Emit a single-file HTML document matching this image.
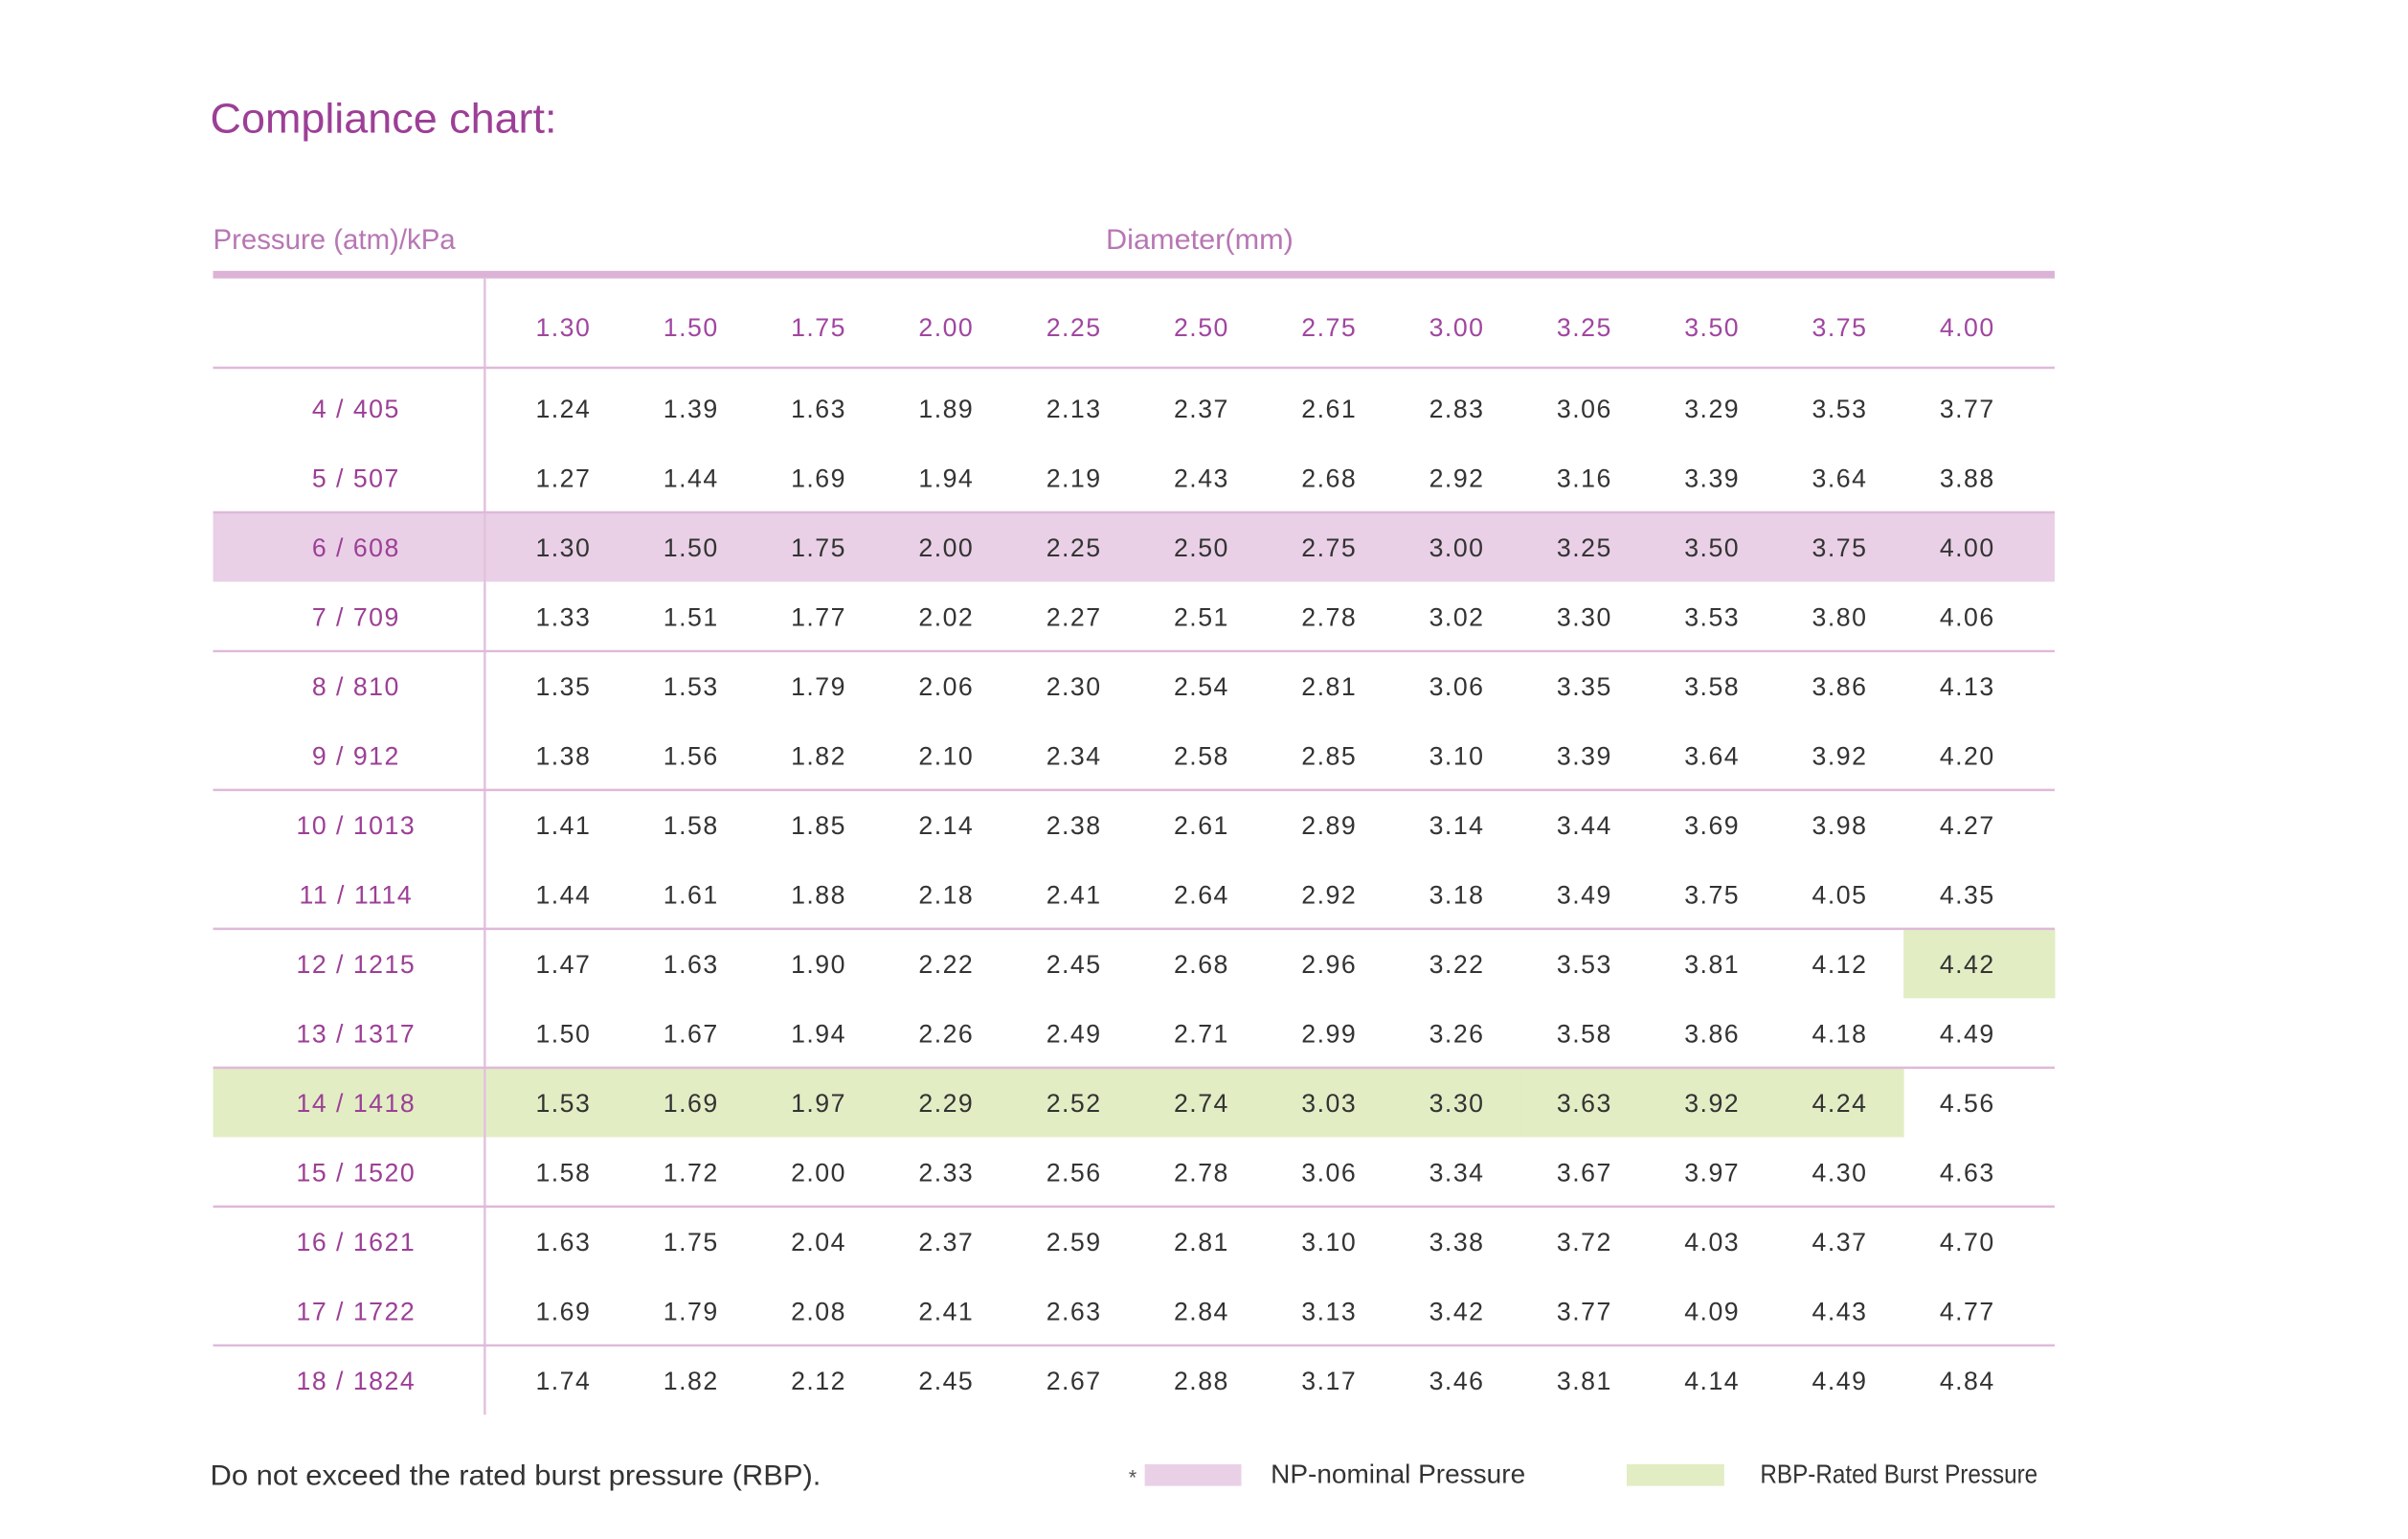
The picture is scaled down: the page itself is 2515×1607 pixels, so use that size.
<!DOCTYPE html>
<html><head><meta charset="utf-8"><style>
html,body{margin:0;padding:0;background:#fff;}
svg{display:block;}
text{font-family:"Liberation Sans",sans-serif;}
</style></head><body>
<svg id="chart" width="2515" height="1607" viewBox="0 0 2543 1625" preserveAspectRatio="xMinYMin meet" xmlns="http://www.w3.org/2000/svg">
<text x="222" y="140" font-size="44" fill="#9c3f96" textLength="366" lengthAdjust="spacingAndGlyphs">Compliance chart:</text>
<text x="225" y="263" font-size="30" fill="#b777b3" textLength="256" lengthAdjust="spacingAndGlyphs">Pressure (atm)/kPa</text>
<text x="1267" y="263" font-size="30" fill="#b777b3" text-anchor="middle" textLength="198" lengthAdjust="spacingAndGlyphs">Diameter(mm)</text>
<g id="bg"></g>
<g id="gridlines"></g>
<g id="cellgroup"></g>
<text x="222" y="1568" font-size="30" fill="#333" textLength="645" lengthAdjust="spacingAndGlyphs">Do not exceed the rated burst pressure (RBP).</text>
<text x="1192" y="1568" font-size="22" fill="#555">*</text>
<rect x="1209" y="1546" width="102" height="23" fill="#e9d0e6"/>
<text x="1342" y="1566" font-size="28" fill="#333" textLength="269" lengthAdjust="spacingAndGlyphs">NP-nominal Pressure</text>
<rect x="1718" y="1546" width="103" height="23" fill="#e2edc4"/>
<text x="1859" y="1566" font-size="28" fill="#333" textLength="293" lengthAdjust="spacingAndGlyphs">RBP-Rated Burst Pressure</text>
</svg>
<script>
const diameters = ["1.30","1.50","1.75","2.00","2.25","2.50","2.75","3.00","3.25","3.50","3.75","4.00"];
const pressures = ["4 / 405","5 / 507","6 / 608","7 / 709","8 / 810","9 / 912","10 / 1013","11 / 1114","12 / 1215","13 / 1317","14 / 1418","15 / 1520","16 / 1621","17 / 1722","18 / 1824"];
const r4 = ["1.24","1.39","1.63","1.89","2.13","2.37","2.61","2.83","3.06","3.29","3.53","3.77"];
const r5 = ["1.27","1.44","1.69","1.94","2.19","2.43","2.68","2.92","3.16","3.39","3.64","3.88"];
const r6 = ["1.30","1.50","1.75","2.00","2.25","2.50","2.75","3.00","3.25","3.50","3.75","4.00"];
const r7 = ["1.33","1.51","1.77","2.02","2.27","2.51","2.78","3.02","3.30","3.53","3.80","4.06"];
const r8 = ["1.35","1.53","1.79","2.06","2.30","2.54","2.81","3.06","3.35","3.58","3.86","4.13"];
const r9 = ["1.38","1.56","1.82","2.10","2.34","2.58","2.85","3.10","3.39","3.64","3.92","4.20"];
const r10 = ["1.41","1.58","1.85","2.14","2.38","2.61","2.89","3.14","3.44","3.69","3.98","4.27"];
const r11 = ["1.44","1.61","1.88","2.18","2.41","2.64","2.92","3.18","3.49","3.75","4.05","4.35"];
const r12 = ["1.47","1.63","1.90","2.22","2.45","2.68","2.96","3.22","3.53","3.81","4.12","4.42"];
const r13 = ["1.50","1.67","1.94","2.26","2.49","2.71","2.99","3.26","3.58","3.86","4.18","4.49"];
const r14 = ["1.53","1.69","1.97","2.29","2.52","2.74","3.03","3.30","3.63","3.92","4.24","4.56"];
const r15 = ["1.58","1.72","2.00","2.33","2.56","2.78","3.06","3.34","3.67","3.97","4.30","4.63"];
const r16 = ["1.63","1.75","2.04","2.37","2.59","2.81","3.10","3.38","3.72","4.03","4.37","4.70"];
const r17 = ["1.69","1.79","2.08","2.41","2.63","2.84","3.13","3.42","3.77","4.09","4.43","4.77"];
const r18 = ["1.74","1.82","2.12","2.45","2.67","2.88","3.17","3.46","3.81","4.14","4.49","4.84"];
const values = [r4,r5,r6,r7,r8,r9,r10,r11,r12,r13,r14,r15,r16,r17,r18];
const npRow = 2;
const rbpCells = [[8,11],[10,0],[10,1],[10,2],[10,3],[10,4],[10,5],[10,6],[10,7],[10,8],[10,9],[10,10]];

(function(){
const NS = "http://www.w3.org/2000/svg";
const L = 225, R = 2170, VX = 512, COL0 = 595, CW = 134.8, ROW0 = 431, RH = 73.3;
const colX = i => COL0 + i * CW;
const rowY = i => ROW0 + i * RH;
function mk(tag, attrs, parent) { const e = document.createElementNS(NS, tag); for (const k in attrs) e.setAttribute(k, attrs[k]); parent.appendChild(e); return e; }
const bgG = document.getElementById('bg'), lineG = document.getElementById('gridlines'), cellG = document.getElementById('cellgroup');

const np = mk('rect', {x: L, y: rowY(npRow) - RH/2, width: R - L, height: RH, fill: '#e9d0e6'}, bgG);


rbpCells.forEach(([r, c]) => {
  const x0 = c === 0 ? L : colX(c) - CW/2;
  const x1 = c === diameters.length - 1 ? R : colX(c) + CW/2;
  const e = mk('rect', {x: x0, y: rowY(r) - RH/2, width: x1 - x0 + 0.5, height: RH, fill: '#e2edc4'}, bgG);
  
  
});

const headerRule = mk('rect', {x: L, y: 286, width: R - L, height: 8, fill: '#dcb3d6'}, lineG);


const vl = mk('line', {x1: VX, y1: 293, x2: VX, y2: rowY(pressures.length - 1) + RH/2, stroke: '#e2c2dd', 'stroke-width': 2.5}, lineG);


for (let i = 0; i < pressures.length; i += 2) {
  const y = rowY(i) - RH/2 - (i === 0 ? 6 : 0);
  const e = mk('line', {x1: L, y1: y, x2: R, y2: y, stroke: '#dfb9da', 'stroke-width': 2.5}, lineG);
  
  
}

diameters.forEach((d, i) => {
  const t = mk('text', {x: colX(i), y: 355, 'font-size': 27, fill: '#a046a0', 'text-anchor': 'middle', 'letter-spacing': 1.5}, cellG);
  t.textContent = d;
  
  
});
pressures.forEach((p, r) => {
  const t = mk('text', {x: 376, y: rowY(r) + 10, 'font-size': 27, fill: '#9c3f96', 'text-anchor': 'middle', 'letter-spacing': 1.5}, cellG);
  t.textContent = p;
  
  
  values[r].forEach((v, c) => {
    const e = mk('text', {x: colX(c), y: rowY(r) + 10, 'font-size': 27, fill: '#333', 'text-anchor': 'middle', 'letter-spacing': 1.5}, cellG);
    e.textContent = v;
    
    
  });
});
})();
</script>
</body></html>
